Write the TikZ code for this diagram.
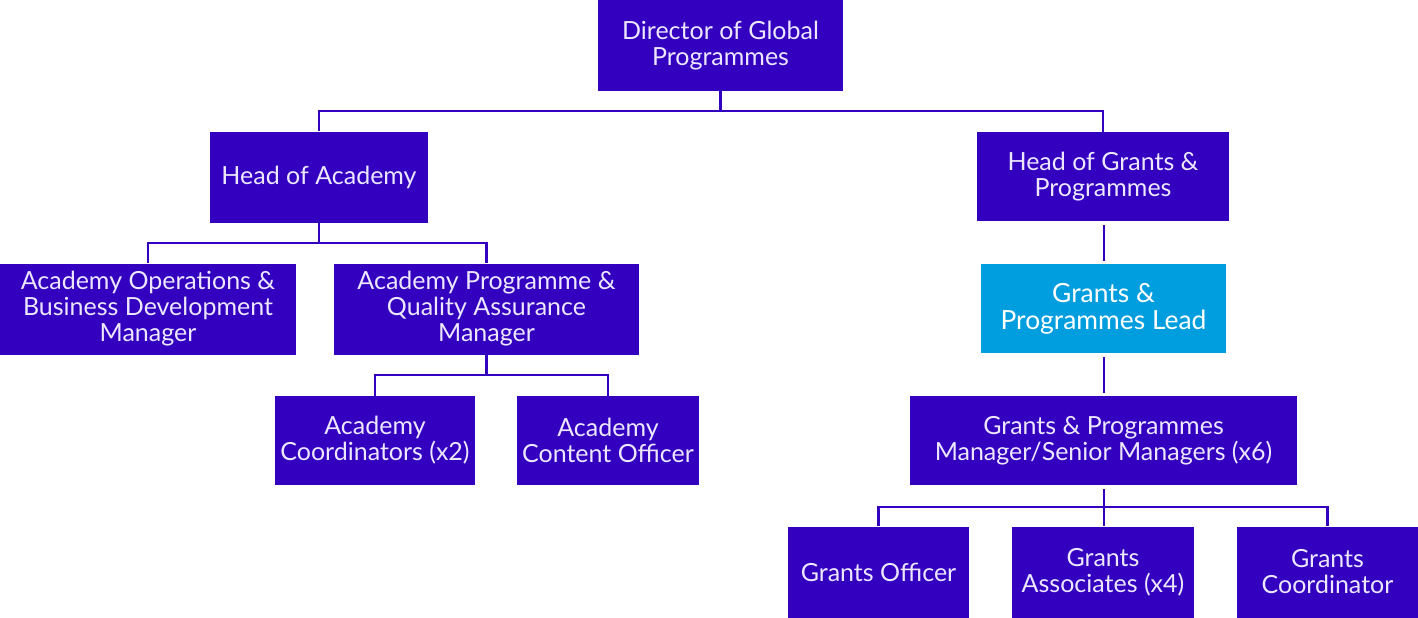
\documentclass[tikz,border=0pt]{standalone}
\usepackage{fontspec}
\setmainfont{Lato}
\usepackage{tikz}
\usetikzlibrary{positioning,calc}
\usepackage{xcolor}
\definecolor{rolepurple}{RGB}{51,0,192}
\definecolor{leadblue}{RGB}{0,158,222}
\definecolor{roletext}{RGB}{236,230,255}

\begin{document}
\begin{tikzpicture}[
    x=0.5pt, y=-0.5pt,
    role/.style={rectangle, fill=rolepurple, text=roletext, align=center,
                 inner sep=0pt, minimum height=45.5pt,
                 font=\fontsize{12.5}{13}\selectfont},
    leadrole/.style={role, fill=leadblue, text=white,
                     font=\fontsize{13.2}{13.5}\selectfont},
    link/.style={draw=rolepurple, line width=1.4pt}
]
\useasboundingbox (0,0) rectangle (1418,617);

% Level 0
\node[role, minimum width=122.5pt] (dir) at (720.5,45.5) {Director of Global\\Programmes};

% Level 1
\node[role, minimum width=109pt] (hoa) at (319,177) {Head of Academy};
\node[role, minimum width=126pt, minimum height=44.5pt] (hog) at (1103,176.5) {Head of Grants \&\\Programmes};

% Level 2
\node[role, minimum width=148pt] (aobd) at (148,309) {Academy Operations \&\\Business Development\\Manager};
\node[role, minimum width=152.5pt] (apqa) at (486.5,309) {Academy Programme \&\\Quality Assurance\\Manager};
\node[leadrole, minimum width=122.5pt, minimum height=44.5pt] (lead) at (1103.5,308.5) {Grants \&\\Programmes Lead};

% Level 3
\node[role, minimum width=100pt, minimum height=44.5pt] (acoord) at (375,440.5) {Academy\\Coordinators (x2)};
\node[role, minimum width=91pt, minimum height=44.5pt] (acont) at (608,440.5) {Academy\\Content Officer};
\node[role, minimum width=193.5pt, minimum height=44.5pt] (gpm) at (1103.5,440.5) {Grants \& Programmes\\Manager/Senior Managers (x6)};

% Level 4
\node[role, minimum width=90.5pt] (gof) at (878.5,572) {Grants Officer};
\node[role, minimum width=91pt] (gas) at (1103,572) {Grants\\Associates (x4)};
\node[role, minimum width=90.5pt] (gco) at (1327.5,572) {Grants\\Coordinator};

% Bus lines
\coordinate (busA) at (0,111);
\coordinate (busB) at (0,243);
\coordinate (busC) at (0,375);
\coordinate (busD) at (0,507);
\coordinate (spine) at (1104,0);

% Director to heads
\draw[link] (dir.south) -- (dir.south |- busA);
\draw[link] (hoa.north) |- (busA -| hog.north) -- (hog.north);

% Academy
\draw[link] (hoa.south) -- (hoa.south |- busB);
\draw[link] (aobd.north) |- (busB -| apqa.north) -- (apqa.north);
\draw[link] (apqa.south) -- (apqa.south |- busC);
\draw[link] (acoord.north) |- (busC -| acont.north) -- (acont.north);

% Grants
\draw[link] ($(spine |- hog.south)+(0,4)$) -- ($(spine |- lead.north)+(0,-3)$);
\draw[link] ($(spine |- lead.south)+(0,4)$) -- ($(spine |- gpm.north)+(0,-3)$);
\draw[link] ($(spine |- gpm.south)+(0,4)$) -- (spine |- gas.north);
\draw[link] (gof.north) |- (busD -| gco.north) -- (gco.north);
\end{tikzpicture}
\end{document}
